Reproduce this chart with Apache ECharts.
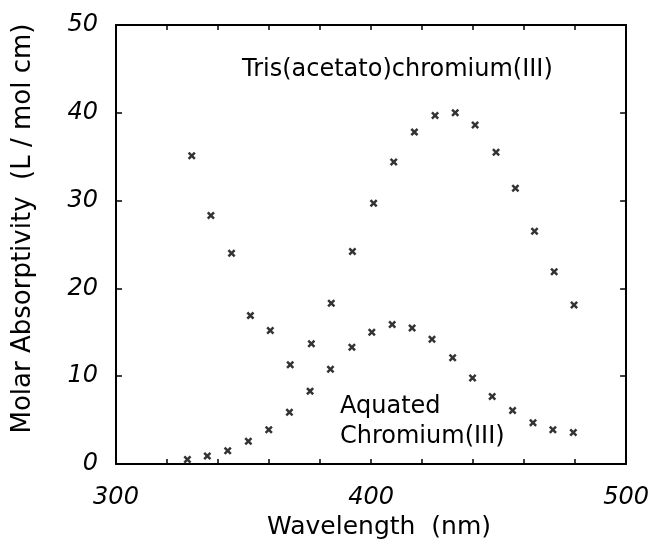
<!DOCTYPE html>
<html>
<head>
<meta charset="utf-8">
<script src="https://cdn.jsdelivr.net/npm/echarts@6/dist/echarts.min.js"></script>
<style>
  html, body { margin: 0; padding: 0; background: #fff; }
  #chart { width: 652px; height: 550px; }
</style>
</head>
<body>
<div id="chart"></div>
<script>
// Tris(acetato)chromium(III): wavelength (nm) and molar absorptivity
const trisWavelength = [329.7, 337.2, 345.3, 352.7, 360.5, 368.3, 376.6, 384.4, 392.7, 401.0,
                        408.9, 417.0, 425.1, 433.0, 440.8, 449.0, 456.6, 464.1, 471.8, 479.6];
const trisAbsorb = [35.1, 28.3, 24.0, 16.9, 15.2, 11.3, 13.7, 18.3, 24.2, 29.7,
                    34.4, 37.8, 39.7, 40.0, 38.6, 35.5, 31.4, 26.5, 21.9, 18.1];

// Aquated chromium(III)
const aquaWavelength = [328.0, 335.8, 343.8, 351.9, 359.9, 368.0, 376.1, 384.1, 392.5, 400.3,
                        408.3, 416.1, 423.9, 432.0, 439.8, 447.5, 455.5, 463.5, 471.3, 479.3];
const aquaAbsorb = [0.5, 0.9, 1.5, 2.6, 3.9, 5.9, 8.3, 10.8, 13.3, 15.0,
                    15.9, 15.5, 14.2, 12.1, 9.8, 7.7, 6.1, 4.7, 3.9, 3.6];

const xTickLabels = [300, 400, 500];
const yTickLabels = [0, 10, 20, 30, 40, 50];

const crossSymbol = 'path://M0,2.2 L2.2,0 L5,2.8 L7.8,0 L10,2.2 L7.2,5 L10,7.8 L7.8,10 L5,7.2 L2.2,10 L0,7.8 L2.8,5 Z';
const font = 'DejaVu Sans';

function zip(xs, ys) {
    return xs.map((x, i) => [x, ys[i]]);
}

const chart = echarts.init(document.getElementById('chart'));

const lineStyle = { color: '#000', width: 2 };
const tickStyle = { color: '#000', width: 1.5 };

const option = {
    animation: false,
    backgroundColor: '#fff',
    grid: { left: 116, right: 24, top: 25, bottom: 86, containLabel: false },
    xAxis: [
        {
            type: 'value', min: 300, max: 500, interval: 20, position: 'bottom',
            name: 'Wavelength  (nm)', nameLocation: 'middle', nameGap: 49,
            nameTextStyle: { fontFamily: font, fontSize: 25, color: '#000', padding: [0, 0, 0, 16] },
            axisLine: { onZero: false, lineStyle: lineStyle },
            axisTick: { inside: true, length: 5, lineStyle: tickStyle },
            splitLine: { show: false },
            axisLabel: {
                margin: 22, fontFamily: font, fontStyle: 'italic', fontSize: 24, color: '#000',
                formatter: v => xTickLabels.includes(v) ? String(v) : ''
            }
        },
        {
            type: 'value', min: 300, max: 500, interval: 20, position: 'top',
            axisLine: { onZero: false, lineStyle: lineStyle },
            axisTick: { inside: true, length: 5, lineStyle: tickStyle },
            axisLabel: { show: false },
            splitLine: { show: false }
        }
    ],
    yAxis: [
        {
            type: 'value', min: 0, max: 50, interval: 10, position: 'left',
            name: 'Molar Absorptivity  (L / mol cm)', nameLocation: 'middle', nameGap: 80,
            nameTextStyle: { fontFamily: font, fontSize: 26, color: '#000', padding: [0, 0, 0, 32] },
            axisLine: { onZero: false, lineStyle: lineStyle },
            axisTick: { inside: true, length: 6, lineStyle: tickStyle },
            splitLine: { show: false },
            axisLabel: {
                margin: 18, fontFamily: font, fontStyle: 'italic', fontSize: 24, color: '#000',
                padding: [4, 0, 0, 0],
                formatter: v => yTickLabels.includes(v) ? String(v) : ''
            }
        },
        {
            type: 'value', min: 0, max: 50, interval: 10, position: 'right',
            axisLine: { onZero: false, lineStyle: lineStyle },
            axisTick: { inside: true, length: 6, lineStyle: tickStyle },
            axisLabel: { show: false },
            splitLine: { show: false }
        }
    ],
    series: [
        {
            name: 'Tris(acetato)chromium(III)', type: 'scatter',
            data: zip(trisWavelength, trisAbsorb),
            symbol: crossSymbol, symbolSize: 8,
            itemStyle: { color: '#000' }
        },
        {
            name: 'Aquated Chromium(III)', type: 'scatter',
            data: zip(aquaWavelength, aquaAbsorb),
            symbol: crossSymbol, symbolSize: 8,
            itemStyle: { color: '#000' }
        }
    ],
    graphic: [
        {
            type: 'text', left: 242, top: 58,
            style: { text: 'Tris(acetato)chromium(III)', fontFamily: font, fontSize: 24, fill: '#000' }
        },
        {
            type: 'text', left: 340, top: 392,
            style: { text: 'Aquated\nChromium(III)', fontFamily: font, fontSize: 24, lineHeight: 30, fill: '#000' }
        }
    ]
};

chart.setOption(option);
</script>
</body>
</html>
